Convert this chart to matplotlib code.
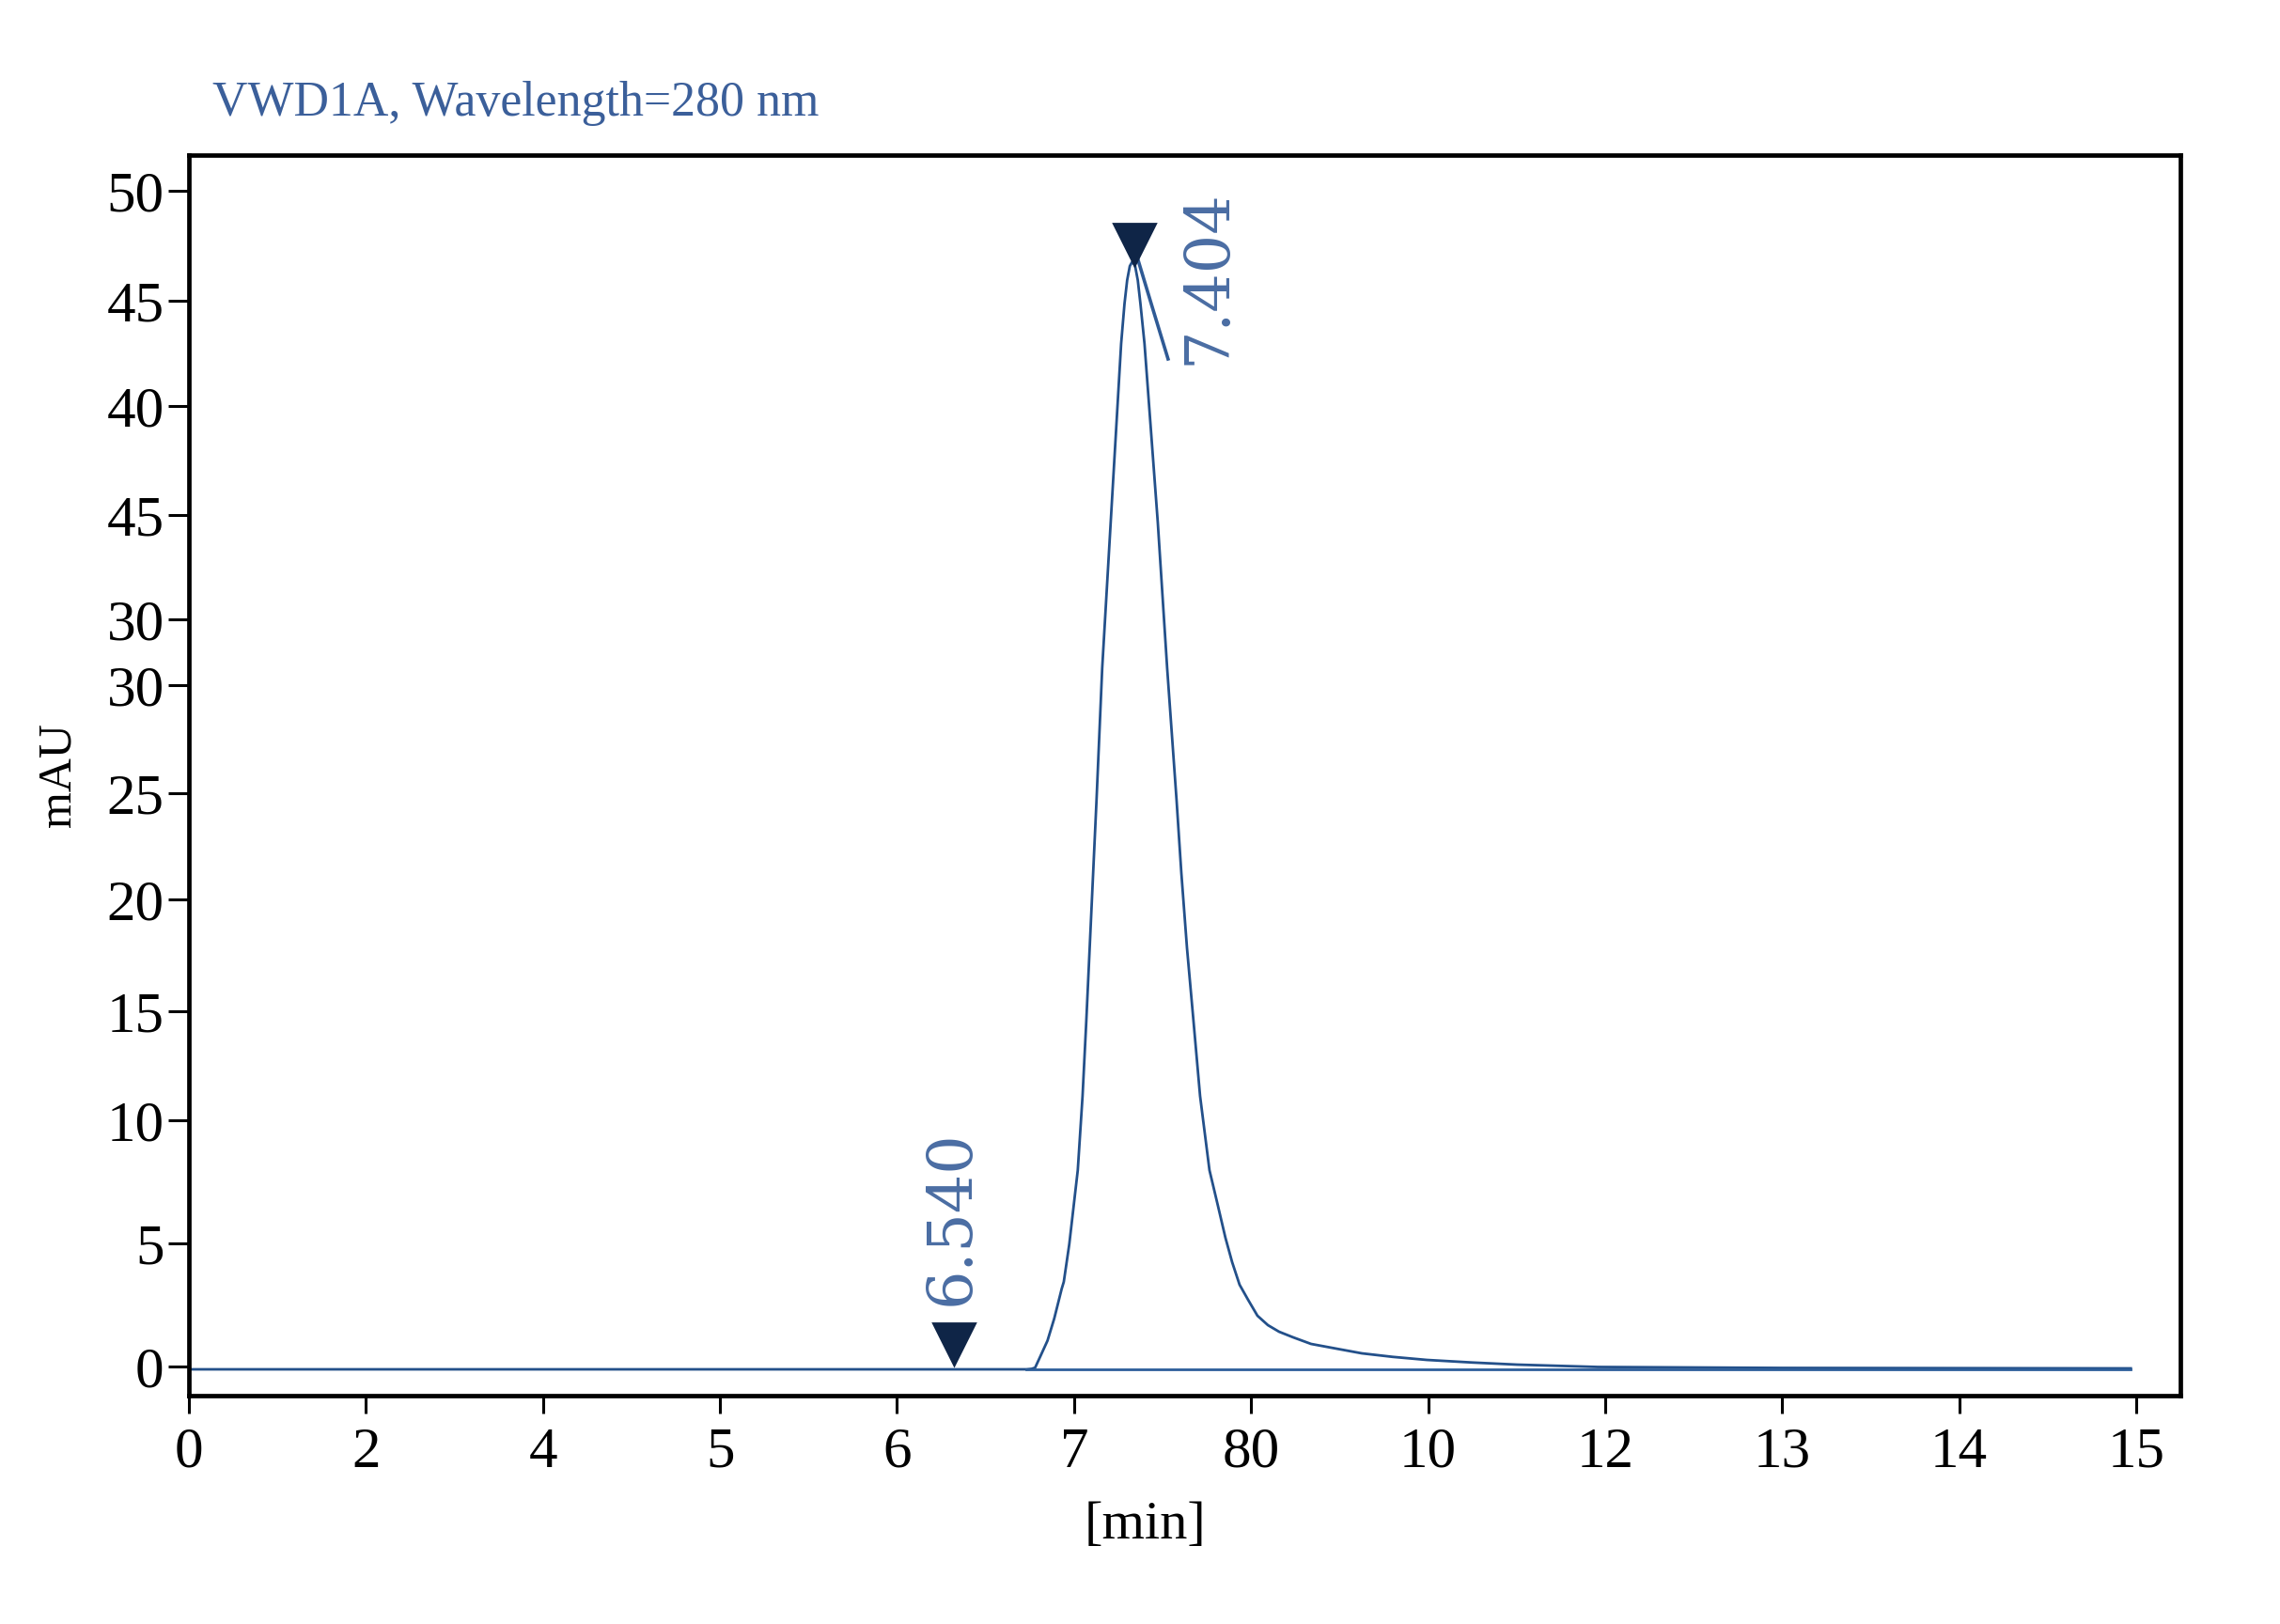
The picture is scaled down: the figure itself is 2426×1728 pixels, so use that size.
import matplotlib
matplotlib.use("Agg")
import matplotlib.pyplot as plt

# x axis: evenly spaced ticks, labels as printed on the chart
x_tick_pos = [0, 1, 2, 3, 4, 5, 6, 7, 8, 9, 10, 11]
x_tick_labels = ["0", "2", "4", "5", "6", "7", "80", "10", "12", "13", "14", "15"]

# y axis: tick positions (mAU) and labels as printed
y_tick_pos = [0, 5.24, 10.47, 15.11, 19.86, 24.38, 28.98, 31.77, 36.21, 40.85, 45.32, 50]
y_tick_labels = ["0", "5", "10", "15", "20", "25", "30", "30", "45", "40", "45", "50"]

# signal trace
sig_x = [0, 4.73, 4.76, 4.78, 4.81, 4.85, 4.888, 4.93, 4.942, 4.973, 5.021, 5.048,
         5.069, 5.127, 5.159, 5.207, 5.266, 5.285, 5.30, 5.315, 5.33, 5.345, 5.36,
         5.375, 5.398, 5.473, 5.526, 5.579, 5.606, 5.638, 5.675, 5.712, 5.765,
         5.813, 5.855, 5.893, 5.935, 5.983, 6.036, 6.095, 6.158, 6.238, 6.339,
         6.482, 6.626, 6.80, 6.993, 7.25, 7.503, 7.96, 9.0, 10.97]
sig_y = [-0.12, -0.12, -0.1, -0.05, 0.44, 1.1, 2.04, 3.3, 3.6, 5.2, 8.35, 11.5,
         14.67, 24.1, 29.7, 35.9, 43.5, 45.2, 46.2, 46.8, 47.0, 46.8, 46.2,
         45.2, 43.5, 35.9, 29.7, 24.1, 21.0, 17.8, 14.67, 11.5, 8.35,
         6.83, 5.48, 4.44, 3.48, 2.84, 2.16, 1.76, 1.48, 1.24, 0.96,
         0.76, 0.56, 0.41, 0.28, 0.17, 0.08, -0.02, -0.06, -0.08]

# integration baseline and skim line at the apex
base_x = [4.73, 10.97]
base_y = [-0.12, -0.12]
skim_x = [5.356, 5.44, 5.531]
skim_y = [47.2, 45.1, 42.85]

# peak markers and retention-time labels
peak_x = [4.32, 5.34]
peak_y = [0.96, 47.74]
peak_labels = ["6.540", "7.404"]
label_x = [4.31, 5.755]
label_y = [2.6, 42.6]

line_col = "#23508a"
text_col = "#4a6da3"

fig = plt.figure(figsize=(12.13, 8.64), dpi=200)
ax = fig.add_axes([0.0829, 0.1406, 0.8734, 0.7639])

ax.plot(sig_x, sig_y, color=line_col, lw=1.0)
ax.plot(base_x, base_y, color="#2d5e9a", lw=1.0)
ax.plot(skim_x, skim_y, color="#2f5a95", lw=1.3)
ax.plot(peak_x, peak_y, linestyle="none", marker="v", ms=15.5, color="#0f2547")

for lx, ly, t in zip(label_x, label_y, peak_labels):
    ax.text(lx, ly, t, rotation=90, ha="center", va="bottom", color=text_col,
            fontsize=23.5, family="DejaVu Serif")

ax.set_xlim(0, 11.25)
ax.set_ylim(-1.24, 51.52)
ax.set_xticks(x_tick_pos)
ax.set_xticklabels(x_tick_labels)
ax.set_yticks(y_tick_pos)
ax.set_yticklabels(y_tick_labels)

for lab in ax.get_xticklabels() + ax.get_yticklabels():
    lab.set_family("Liberation Serif")
    lab.set_fontsize(22)

ax.tick_params(axis="x", length=7, width=1.1, pad=5)
ax.tick_params(axis="y", length=8, width=1.1, pad=1.5)
for s in ax.spines.values():
    s.set_linewidth(1.7)

ax.set_xlabel("[min]", family="Liberation Serif", fontsize=21, labelpad=8)
ax.xaxis.set_label_coords(0.48, -0.085)
ax.set_ylabel("mAU", family="Liberation Serif", fontsize=18, labelpad=10)

fig.text(0.0932, 0.9288, "VWD1A, Wavelength=280 nm", color="#3b5f9a",
         family="Liberation Serif", fontsize=18.7, va="baseline")

fig.savefig("out.png", dpi=200)
